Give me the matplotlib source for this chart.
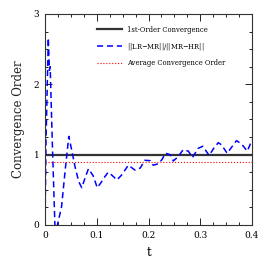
import matplotlib
matplotlib.use("Agg")
import matplotlib.pyplot as plt
from matplotlib.ticker import MultipleLocator

# ratio ||LR-MR|| / ||MR-HR||
t_vals = [0.0, 0.002, 0.0064, 0.0085, 0.0100, 0.014, 0.019, 0.021, 0.024,
          0.032, 0.039, 0.046, 0.052, 0.058, 0.065, 0.071, 0.078, 0.084,
          0.093, 0.101, 0.108, 0.116, 0.122, 0.129, 0.139, 0.148, 0.161,
          0.174, 0.184, 0.193, 0.203, 0.209, 0.219, 0.226, 0.233, 0.242,
          0.248, 0.257, 0.267, 0.277, 0.285, 0.296, 0.305, 0.317, 0.327,
          0.335, 0.341, 0.352, 0.362, 0.370, 0.380, 0.391, 0.400]
ratio = [0.0, 1.2, 2.66, 2.20, 2.25, 1.20, 0.03, -0.2, 0.0,
         0.26, 0.78, 1.26, 1.05, 0.83, 0.62, 0.53, 0.68, 0.80,
         0.70, 0.53, 0.60, 0.69, 0.75, 0.71, 0.64, 0.71, 0.85,
         0.78, 0.81, 0.92, 0.915, 0.85, 0.87, 0.93, 1.02, 1.00,
         0.91, 0.97, 1.07, 1.05, 0.96, 1.09, 1.12, 0.99, 1.10,
         1.17, 1.14, 1.02, 1.12, 1.20, 1.15, 1.05, 1.21]
first_order = 1.0
avg_order = 0.9

plt.rcParams['font.family'] = ['DejaVu Serif']

fig = plt.figure(figsize=(2.66, 2.66), dpi=100)
ax = fig.add_axes([45/266, 41/266, 207/266, 211/266])

ax.axhline(first_order, color='#333333', lw=1.6, label='1st-Order Convergence')
ax.plot(t_vals, ratio, color='blue', ls='--', lw=1.1, dashes=(4, 2.5),
        label='||LR$-$MR||/||MR$-$HR||')
ax.axhline(avg_order, color='red', ls=':', lw=0.8, label='Average Convergence Order')

ax.set_xlim(0, 0.4)
ax.set_ylim(0, 3)
ax.xaxis.set_minor_locator(MultipleLocator(0.025))
ax.yaxis.set_major_locator(MultipleLocator(1))
ax.yaxis.set_minor_locator(MultipleLocator(0.25))
ax.xaxis.set_ticks([0, 0.1, 0.2, 0.3, 0.4])
ax.set_xticklabels(['0', '0.1', '0.2', '0.3', '0.4'])
ax.tick_params(which='both', direction='in', top=True, right=True, labelsize=6.5,
               width=0.6, pad=4)
ax.tick_params(which='major', length=5)
ax.tick_params(which='minor', length=2.5)
for s in ax.spines.values():
    s.set_linewidth(0.8)
    s.set_color('#333333')

ax.set_xlabel('t', fontsize=8.5, labelpad=5)
ax.set_ylabel('Convergence Order', fontsize=8.5, labelpad=6, color='#222222')

ax.legend(loc='upper left', bbox_to_anchor=(0.25, 0.945), frameon=False,
          fontsize=4.9, handlelength=3.7, handletextpad=0.8, labelspacing=1.05,
          borderpad=0, borderaxespad=0)

fig.savefig('out.png', dpi=100)
